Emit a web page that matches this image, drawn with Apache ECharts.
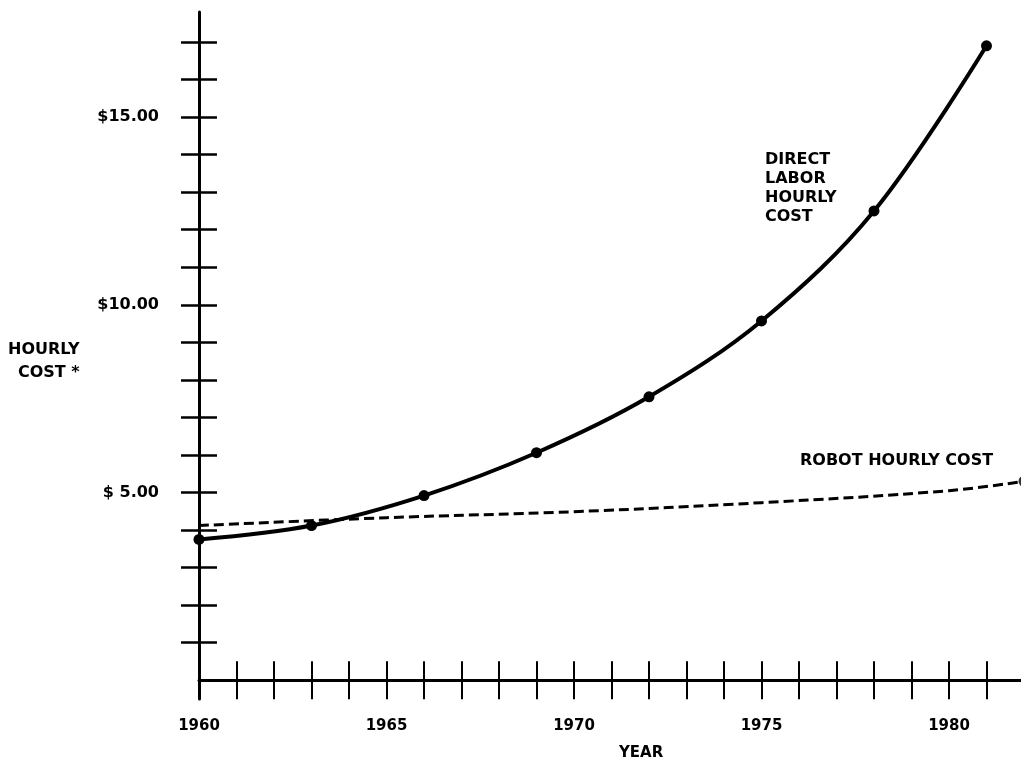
<!DOCTYPE html>
<html>
<head>
<meta charset="utf-8">
<script src="https://cdn.jsdelivr.net/npm/echarts@6/dist/echarts.min.js"></script>
<style>
  html, body { margin: 0; padding: 0; background: #fff; }
  #chart { width: 1021px; height: 762px; }
</style>
</head>
<body>
<div id="chart"></div>
<script>
// values
const laborYears = [1960, 1963, 1966, 1969, 1972, 1975, 1978, 1981];
const laborCost = [3.75, 4.12, 4.92, 6.06, 7.55, 9.57, 12.5, 16.9];
const robotYears = [1960, 1965, 1970, 1975, 1980, 1982];
const robotCost = [4.12, 4.33, 4.49, 4.73, 5.05, 5.3];

const yearTicks = [1961, 1962, 1963, 1964, 1965, 1966, 1967, 1968, 1969, 1970,
  1971, 1972, 1973, 1974, 1975, 1976, 1977, 1978, 1979, 1980, 1981];
const yearLabels = [1960, 1965, 1970, 1975, 1980];
const costTicks = [1, 2, 3, 4, 5, 6, 7, 8, 9, 10, 11, 12, 13, 14, 15, 16, 17];
const costLabelValues = [5, 10, 15];
const costLabels = ["$ 5.00", "$10.00", "$15.00"];

const FONT = "DejaVu Sans";
const INK = "#000";

const gridBox = { left: 199, right: -3, top: 12, bottom: 63, show: false, outerBoundsMode: "none" };

const xBase = {
  type: "value",
  min: 1960,
  max: 1982,
  splitLine: { show: false },
};
const yBase = {
  type: "value",
  min: -0.5,
  max: 17.8,
  splitLine: { show: false },
};

const option = {
  animation: false,
  backgroundColor: "#fff",
  grid: [gridBox, { ...gridBox }],
  xAxis: [
    {
      ...xBase,
      gridIndex: 0,
      position: "bottom",
      axisLine: { show: true, onZero: true, lineStyle: { color: INK, width: 3 } },
      axisTick: { show: true, inside: false, length: 19, customValues: yearTicks,
        lineStyle: { color: INK, width: 2 } },
      axisLabel: { show: true, customValues: yearLabels, margin: 20,
        formatter: (v) => String(v),
        fontFamily: FONT, fontWeight: "bold", fontSize: 15, color: INK },
    },
    {
      ...xBase,
      gridIndex: 1,
      position: "bottom",
      axisLine: { show: false, onZero: true },
      axisTick: { show: true, inside: true, length: 19, customValues: yearTicks,
        lineStyle: { color: INK, width: 2 } },
      axisLabel: { show: false },
    },
  ],
  yAxis: [
    {
      ...yBase,
      gridIndex: 0,
      position: "left",
      axisLine: { show: true, lineStyle: { color: INK, width: 3 } },
      axisTick: { show: true, inside: false, length: 18, customValues: costTicks,
        lineStyle: { color: INK, width: 2.5 } },
      axisLabel: { show: true, customValues: costLabelValues, margin: 40,
        formatter: (v) => costLabels[costLabelValues.indexOf(v)] || "",
        fontFamily: FONT, fontWeight: "bold", fontSize: 16, color: INK },
    },
    {
      ...yBase,
      gridIndex: 1,
      position: "left",
      axisLine: { show: false },
      axisTick: { show: true, inside: true, length: 18, customValues: costTicks,
        lineStyle: { color: INK, width: 2.5 } },
      axisLabel: { show: false },
    },
  ],
  series: [
    {
      name: "Robot hourly cost",
      type: "line",
      xAxisIndex: 0,
      yAxisIndex: 0,
      smooth: 0.4,
      symbol: "none",
      lineStyle: { color: INK, width: 3, type: [10, 5] },
      data: robotYears.map((y, i) => [y, robotCost[i]]),
      z: 3,
    },
    {
      name: "Robot end",
      type: "scatter",
      xAxisIndex: 0,
      yAxisIndex: 0,
      symbol: "circle",
      symbolSize: 11,
      itemStyle: { color: INK },
      data: [[robotYears[robotYears.length - 1], robotCost[robotCost.length - 1]]],
      z: 4,
    },
    {
      name: "Direct labor hourly cost",
      type: "line",
      xAxisIndex: 0,
      yAxisIndex: 0,
      smooth: 0.35,
      symbol: "circle",
      symbolSize: 11,
      showSymbol: true,
      itemStyle: { color: INK },
      lineStyle: { color: INK, width: 4 },
      data: laborYears.map((y, i) => [y, laborCost[i]]),
      z: 5,
    },
  ],
  graphic: [
    { type: "text", left: 8, top: 342,
      style: { text: "HOURLY", font: `bold 16px "${FONT}"`, fill: INK } },
    { type: "text", left: 18, top: 365,
      style: { text: "COST *", font: `bold 16px "${FONT}"`, fill: INK } },
    { type: "text", left: 765, top: 150,
      style: { text: "DIRECT\nLABOR\nHOURLY\nCOST", font: `bold 16px "${FONT}"`,
        lineHeight: 19, fill: INK } },
    { type: "text", left: 800, top: 453,
      style: { text: "ROBOT HOURLY COST", font: `bold 16px "${FONT}"`, fill: INK } },
    { type: "text", left: 619, top: 746,
      style: { text: "YEAR", font: `bold 15px "${FONT}"`, fill: INK } },
  ],
};

const chart = echarts.init(document.getElementById("chart"), null, { renderer: "canvas" });
chart.setOption(option);
</script>
</body>
</html>
